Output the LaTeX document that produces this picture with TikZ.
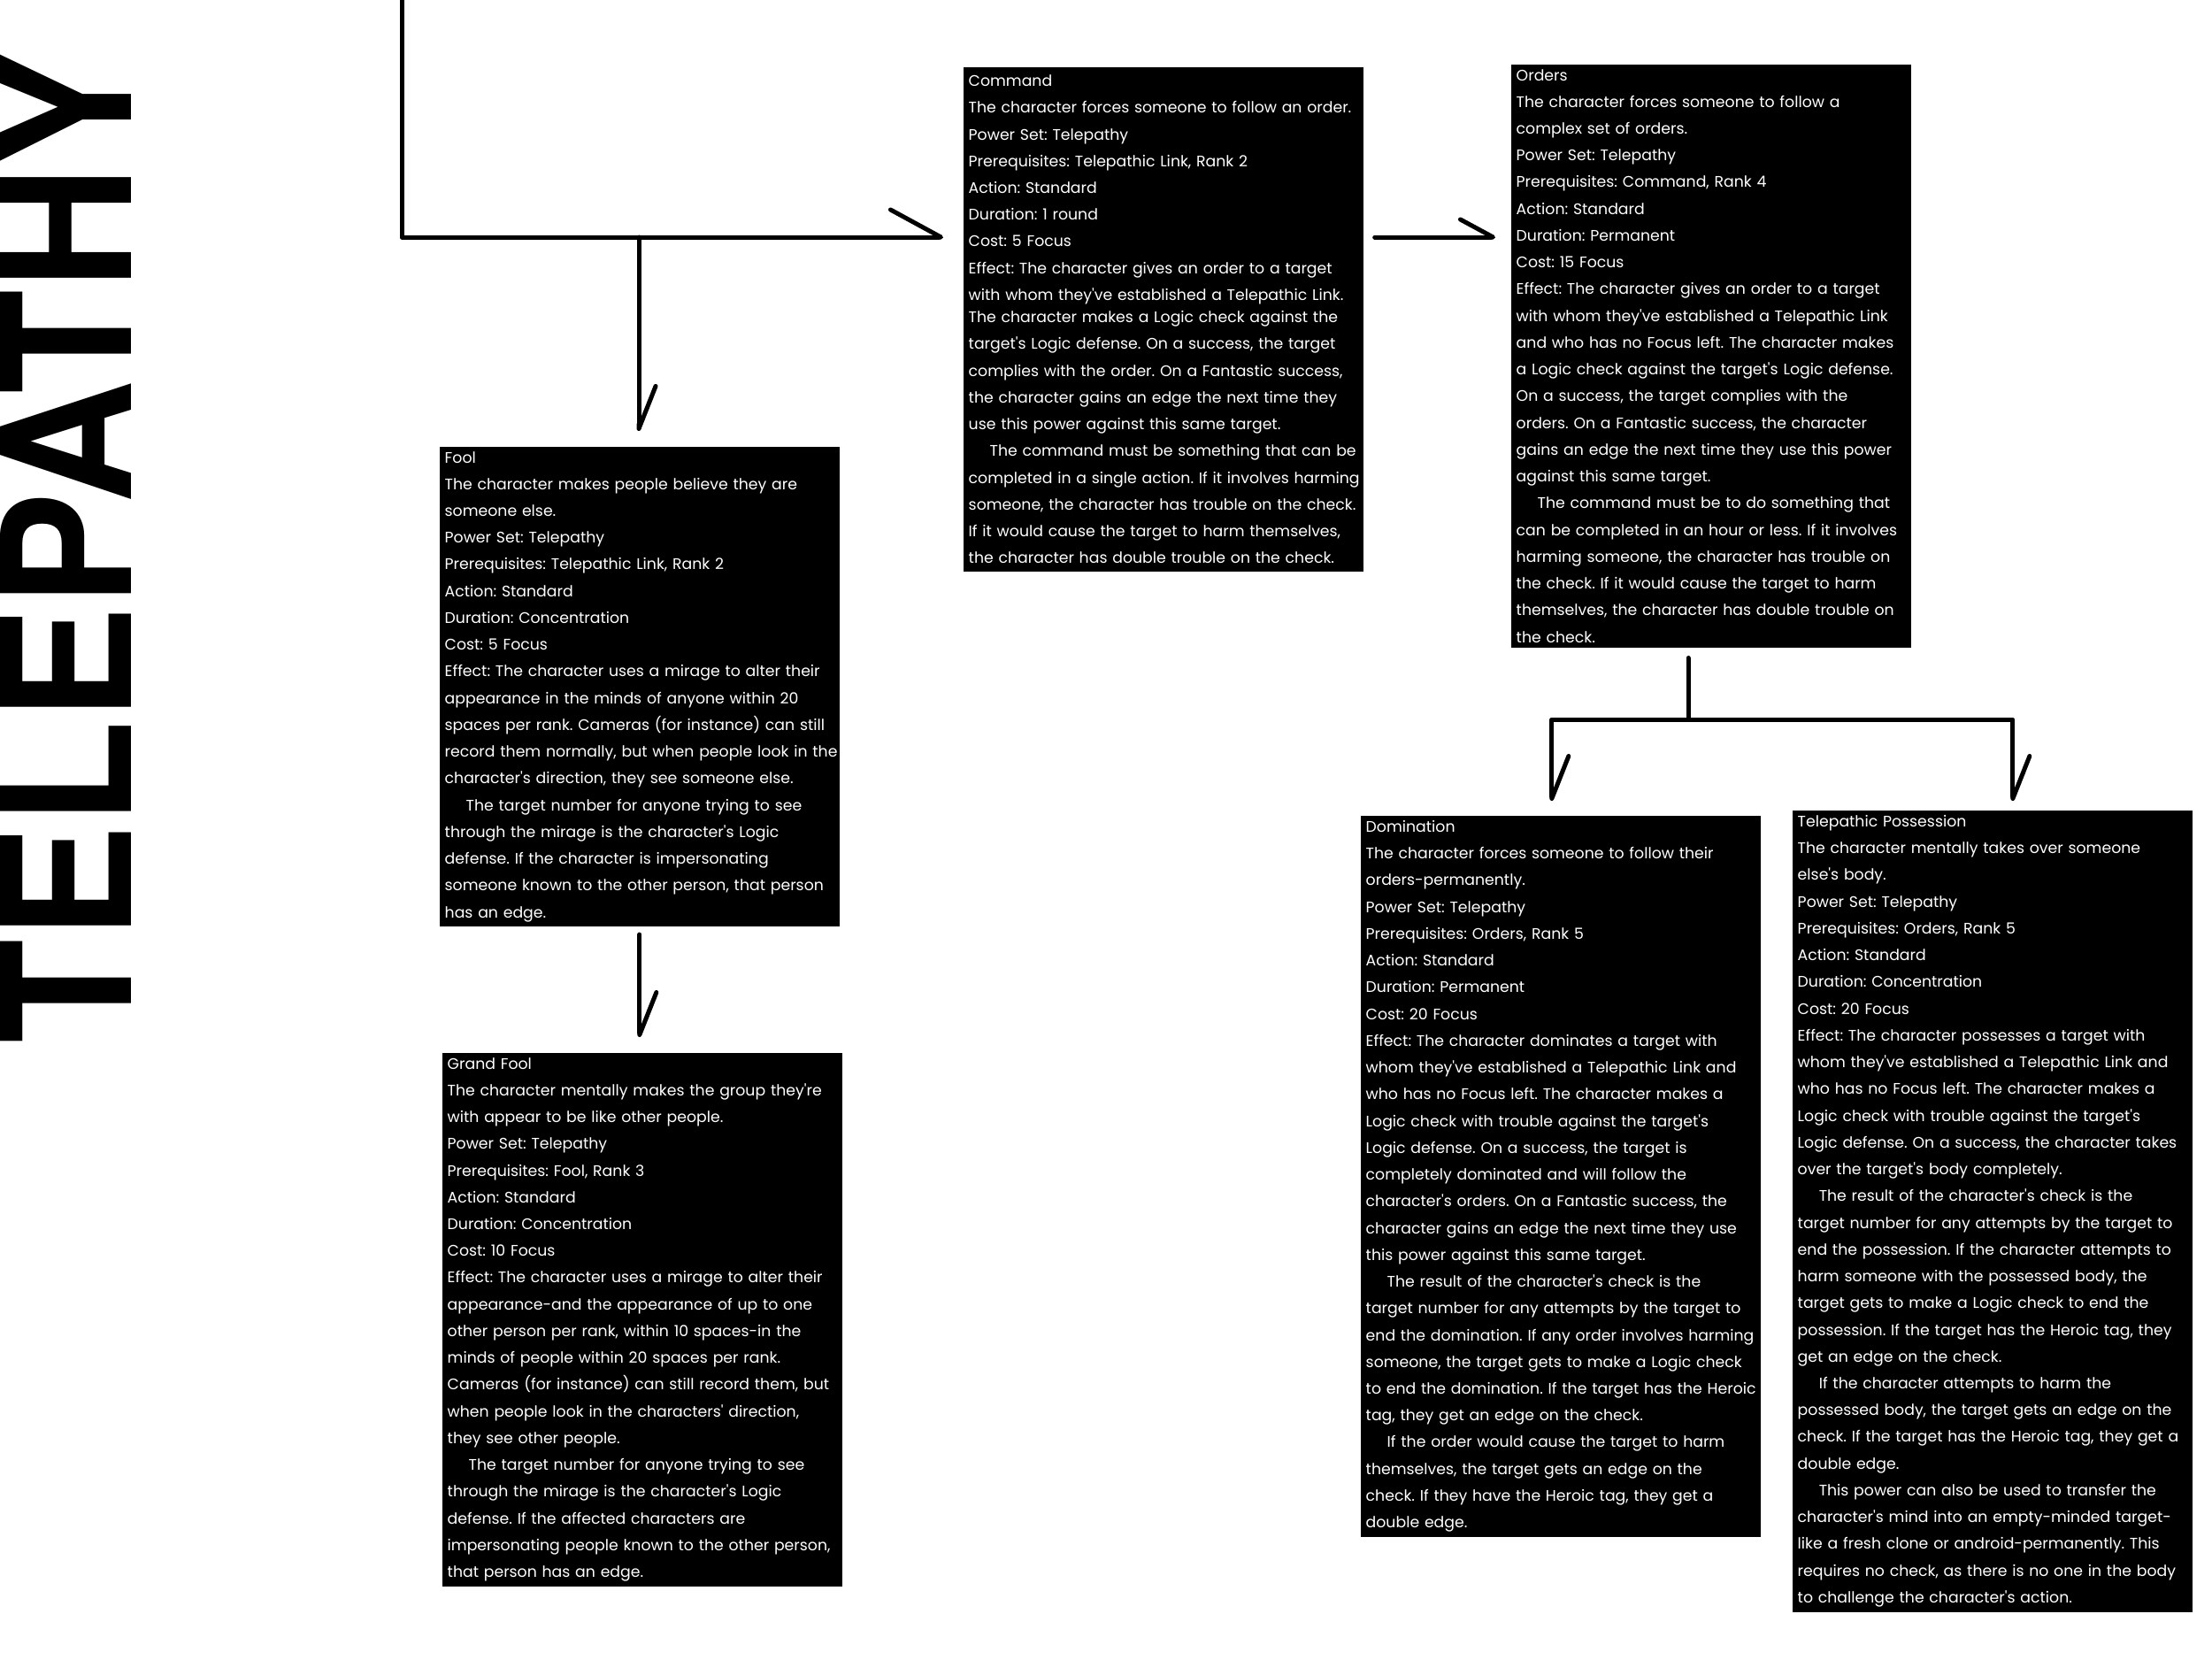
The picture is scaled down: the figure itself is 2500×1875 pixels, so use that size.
\documentclass[tikz,border=0pt]{standalone}
\usepackage{fontspec}
\usetikzlibrary{arrows.meta}
\newfontfamily\cardfont{Poppins}
\newfontfamily\bannerfont{TeX Gyre Heros}
\newcommand\cardsetup{\frenchspacing\hyphenpenalty=10000\relax\exhyphenpenalty=10000\relax}
\newcommand\cardlines{\rightskip=0pt minus 10cm\relax\parindent=0pt\relax}
\definecolor{cardink}{HTML}{000000}
\definecolor{cardtext}{HTML}{FFFFFF}

\begin{document}
\begin{tikzpicture}[x=0.01cm, y=-0.01cm, line cap=round, line join=round,
    card/.style={anchor=north west, fill=cardink, text=cardtext,
                 text width=4.40cm, inner xsep=0.06cm, inner ysep=0.055cm,
                 font=\cardfont\fontsize{4.92pt}{8.6pt}\selectfont\cardsetup,
                 execute at begin node=\cardlines},
    banner/.style={rotate=90, xscale=0.95, inner sep=0pt, cardink,
                   font=\bannerfont\bfseries\fontsize{57.8pt}{58pt}\selectfont},
    link/.style={cardink, line width=0.05cm},
    barb/.style={-{Straight Barb[left, round, length=0.48cm, width=0.38cm]}},
    bigbarb/.style={-{Straight Barb[left, round, length=0.57cm, width=0.62cm]}},
    smallbarb/.style={-{Straight Barb[left, round, length=0.37cm, width=0.40cm]}}]

%% ==== page ==========================================================
\fill[white] (0,0) rectangle (2500,1875);
\useasboundingbox (0,0) rectangle (2500,1875);

%% power set name, read from the bottom up
\node[banner] (heading) at (74,619) {TELEPATHY};

%% ==== power cards ===================================================
\node[card, inner ysep=0.09cm] (command) at (1088,75) {Command\\
The character forces someone to follow an order.\\
Power Set: Telepathy\\
Prerequisites: Telepathic Link, Rank 2\\
Action: Standard\\
Duration: 1 round\\
Cost: 5 Focus\\
Effect: The character gives an order to a target\\
with whom they've established a Telepathic Link.\\[-0.05cm]
The character makes a Logic check against the\\
target's Logic defense. On a success, the target\\
complies with the order. On a Fantastic success,\\
the character gains an edge the next time they\\
use this power against this same target.\\
\hspace*{0.24cm}The command must be something that can be\\
completed in a single action. If it involves harming\\
someone, the character has trouble on the check.\\
If it would cause the target to harm themselves,\\
the character has double trouble on the check.};

\node[card] (orders) at (1707,72) {Orders\\
The character forces someone to follow a\\
complex set of orders.\\
Power Set: Telepathy\\
Prerequisites: Command, Rank 4\\
Action: Standard\\
Duration: Permanent\\
Cost: 15 Focus\\
Effect: The character gives an order to a target\\
with whom they've established a Telepathic Link\\
and who has no Focus left. The character makes\\
a Logic check against the target's Logic defense.\\
On a success, the target complies with the\\
orders. On a Fantastic success, the character\\
gains an edge the next time they use this power\\
against this same target.\\
\hspace*{0.24cm}The command must be to do something that\\
can be completed in an hour or less. If it involves\\
harming someone, the character has trouble on\\
the check. If it would cause the target to harm\\
themselves, the character has double trouble on\\
the check.};

\node[card] (fool) at (496,504) {Fool\\
The character makes people believe they are\\
someone else.\\
Power Set: Telepathy\\
Prerequisites: Telepathic Link, Rank 2\\
Action: Standard\\
Duration: Concentration\\
Cost: 5 Focus\\
Effect: The character uses a mirage to alter their\\
appearance in the minds of anyone within 20\\
spaces per rank. Cameras (for instance) can still\\
record them normally, but when people look in the\\
character's direction, they see someone else.\\
\hspace*{0.24cm}The target number for anyone trying to see\\
through the mirage is the character's Logic\\
defense. If the character is impersonating\\
someone known to the other person, that person\\
has an edge.};

\node[card] (grandfool) at (499,1189) {Grand Fool\\
The character mentally makes the group they're\\
with appear to be like other people.\\
Power Set: Telepathy\\
Prerequisites: Fool, Rank 3\\
Action: Standard\\
Duration: Concentration\\
Cost: 10 Focus\\
Effect: The character uses a mirage to alter their\\
appearance-and the appearance of up to one\\
other person per rank, within 10 spaces-in the\\
minds of people within 20 spaces per rank.\\
Cameras (for instance) can still record them, but\\
when people look in the characters' direction,\\
they see other people.\\
\hspace*{0.24cm}The target number for anyone trying to see\\
through the mirage is the character's Logic\\
defense. If the affected characters are\\
impersonating people known to the other person,\\
that person has an edge.};

\node[card] (domination) at (1537,921) {Domination\\
The character forces someone to follow their\\
orders-permanently.\\
Power Set: Telepathy\\
Prerequisites: Orders, Rank 5\\
Action: Standard\\
Duration: Permanent\\
Cost: 20 Focus\\
Effect: The character dominates a target with\\
whom they've established a Telepathic Link and\\
who has no Focus left. The character makes a\\
Logic check with trouble against the target's\\
Logic defense. On a success, the target is\\
completely dominated and will follow the\\
character's orders. On a Fantastic success, the\\
character gains an edge the next time they use\\
this power against this same target.\\
\hspace*{0.24cm}The result of the character's check is the\\
target number for any attempts by the target to\\
end the domination. If any order involves harming\\
someone, the target gets to make a Logic check\\
to end the domination. If the target has the Heroic\\
tag, they get an edge on the check.\\
\hspace*{0.24cm}If the order would cause the target to harm\\
themselves, the target gets an edge on the\\
check. If they have the Heroic tag, they get a\\
double edge.};

\node[card] (possession) at (2025,915) {Telepathic Possession\\
The character mentally takes over someone\\
else's body.\\
Power Set: Telepathy\\
Prerequisites: Orders, Rank 5\\
Action: Standard\\
Duration: Concentration\\
Cost: 20 Focus\\
Effect: The character possesses a target with\\
whom they've established a Telepathic Link and\\
who has no Focus left. The character makes a\\
Logic check with trouble against the target's\\
Logic defense. On a success, the character takes\\
over the target's body completely.\\
\hspace*{0.24cm}The result of the character's check is the\\
target number for any attempts by the target to\\
end the possession. If the character attempts to\\
harm someone with the possessed body, the\\
target gets to make a Logic check to end the\\
possession. If the target has the Heroic tag, they\\
get an edge on the check.\\
\hspace*{0.24cm}If the character attempts to harm the\\
possessed body, the target gets an edge on the\\
check. If the target has the Heroic tag, they get a\\
double edge.\\
\hspace*{0.24cm}This power can also be used to transfer the\\
character's mind into an empty-minded target-\\
like a fresh clone or android-permanently. This\\
requires no check, as there is no one in the body\\
to challenge the character's action.};

%% ==== connectors ====================================================
%% trunk coming in from the top edge, then the fork to Fool
\coordinate (root) at (454,0);
\coordinate (fork) at (722,268);
\draw[link, bigbarb, shorten >=0.22cm] (root) |- (command.west |- fork);
\draw[link, barb, shorten >=0.17cm] (fork) -- (fool.north -| fork);
\draw[link, barb, shorten <=0.08cm, shorten >=0.17cm]
  (fool.south) -- (grandfool.north -| fool.south);

%% Command leads on to Orders
\draw[link, smallbarb, shorten <=0.12cm, shorten >=0.17cm]
  (command.east |- fork) -- (orders.west |- fork);

%% Orders splits into the two rank-5 powers
\coordinate (split) at (1908,813);
\draw[link, shorten <=0.11cm] (split |- orders.south) -- (split);
\draw[link, barb, shorten >=0.16cm] (split) -| ([xshift=-0.10cm]domination.north);
\draw[link, barb, shorten >=0.10cm] (split) -| ([xshift=0.23cm]possession.north);

\end{tikzpicture}
\end{document}
